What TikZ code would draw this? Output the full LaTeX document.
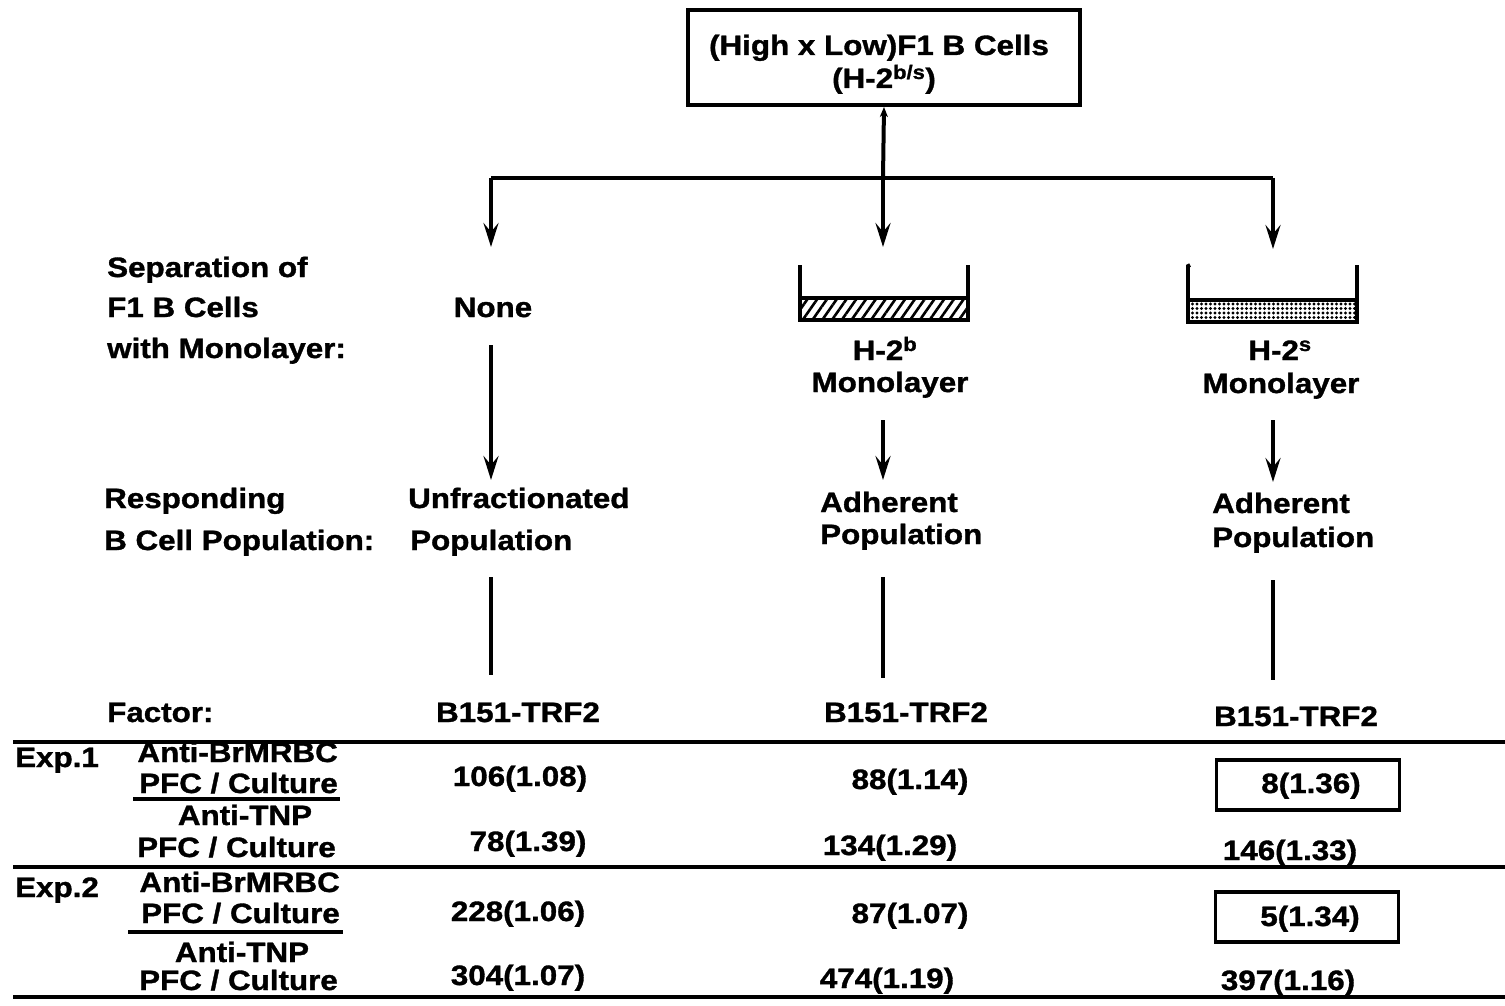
\documentclass[tikz,border=0pt]{standalone}
\usepackage{fontspec}
\setmainfont{Liberation Sans}[FakeStretch=1.12,BoldFeatures={FakeBold=1.2}]
\usetikzlibrary{arrows.meta,patterns.meta}
\newcommand{\bigtxt}{\fontsize{28}{32}\selectfont\bfseries}
\tikzset{
  txt/.style={font=\bigtxt, inner sep=0pt},
  lft/.style={txt, anchor=base west},
  ctr/.style={txt, anchor=base},
  rgt/.style={txt, anchor=base east},
  arr/.style={line width=4pt, -{Stealth[length=24pt,width=15pt,inset=9pt]}},
  ln/.style={line width=4pt},
  rule/.style={line width=4pt},
  dish/.style={line width=3.8pt},
  valbox/.style={draw, line width=3.2pt, minimum width=183pt, minimum height=50pt, inner sep=0pt}
}
\begin{document}
\begin{tikzpicture}[x=1pt,y=-1pt]
\useasboundingbox (0,0) rectangle (1505,1006);
\fill[white] (0,0) rectangle (1505,1006);

% top box
\node[draw, line width=4pt, minimum width=392pt, minimum height=95pt, inner sep=0pt] (top) at (884,57.5) {};
\node[ctr] (t1) at (879,55) {(High x Low)F1 B Cells};
\node[ctr] (t2) at (884,88) {(H-2\textsuperscript{b/s})};

% splitting
\coordinate (split) at (883,178);
\coordinate (sL) at (491,178);
\coordinate (sR) at (1273,178);
\coordinate (eL) at (491,247);
\coordinate (eM) at (883,247);
\coordinate (eR) at (1273,249);
\draw[line width=4pt, {Stealth[length=10pt,width=8pt,inset=3pt]}-] (top.south) -- (split);
\draw[ln] (sL) -- (sR);
\draw[arr] (sL) -- (eL);
\draw[arr] (split) -- (eM);
\draw[arr] (sR) -- (eR);

% left labels
\node[lft] (sep1) at (107,277) {Separation of};
\node[lft] (sep2) at (107,317) {F1 B Cells};
\node[lft] (sep3) at (107,358) {with Monolayer:};
\node[lft] (resp1) at (104,508) {Responding};
\node[lft] (resp2) at (104,550) {B Cell Population:};
\node[lft] (fac) at (107,722) {Factor:};

% column 1
\node[ctr] (none) at (493,317) {None};
\coordinate (a1s) at (491,345);
\coordinate (a1e) at (491,480);
\draw[arr] (a1s) -- (a1e);
\node[lft] (unf1) at (408,508) {Unfractionated};
\node[lft] (unf2) at (410,550) {Population};
\coordinate (l1s) at (491,577);
\coordinate (l1e) at (491,675);
\draw[ln] (l1s) -- (l1e);
\node[ctr] (f1) at (518,722) {B151-TRF2};

% column 2 dish
\fill[pattern={Lines[angle=55,distance=8pt,line width=2.6pt]}] (800,298) rectangle (968,320);
\draw[dish] (800,265) -- (800,320) -- (968,320) -- (968,265);
\draw[dish] (800,298) -- (968,298);
\node[ctr] (hb) at (885,360) {H-2\textsuperscript{b}};
\node[ctr] (mb) at (890,392) {Monolayer};
\coordinate (a2s) at (883,420);
\coordinate (a2e) at (883,480);
\draw[arr] (a2s) -- (a2e);
\node[lft] (ad1) at (820,512) {Adherent};
\node[lft] (ad2) at (820,544) {Population};
\coordinate (l2s) at (883,577);
\coordinate (l2e) at (883,678);
\draw[ln] (l2s) -- (l2e);
\node[ctr] (f2) at (906,722) {B151-TRF2};

% column 3 dish
\fill[pattern={Dots[distance=4.5pt,radius=1.6pt]}] (1188,300) rectangle (1357,322);
\draw[dish] (1190,265) -- (1188,266) -- (1188,322) -- (1357,322) -- (1357,265);
\draw[dish] (1188,300) -- (1357,300);
\node[ctr] (hs) at (1280,360) {H-2\textsuperscript{s}};
\node[ctr] (ms) at (1281,393) {Monolayer};
\coordinate (a3s) at (1273,420);
\coordinate (a3e) at (1273,482);
\draw[arr] (a3s) -- (a3e);
\node[lft] (ar1) at (1212,513) {Adherent};
\node[lft] (ar2) at (1212,547) {Population};
\coordinate (l3s) at (1273,580);
\coordinate (l3e) at (1273,680);
\draw[ln] (l3s) -- (l3e);
\node[ctr] (f3) at (1296,726) {B151-TRF2};

% table rules
\coordinate (r1a) at (13,742); \coordinate (r1b) at (1505,742);
\coordinate (r2a) at (13,867); \coordinate (r2b) at (1505,867);
\coordinate (r3a) at (13,997); \coordinate (r3b) at (1505,997);
\draw[rule] (r1a) -- (r1b);
\draw[rule] (r2a) -- (r2b);
\draw[rule] (r3a) -- (r3b);

% Exp 1
\node[lft] (e1) at (15,767) {Exp.1};
\node[rgt] (e1a) at (338,762) {Anti-BrMRBC};
\node[rgt] (e1b) at (338,793) {PFC / Culture};
\coordinate (u1a) at (133,799); \coordinate (u1b) at (340,799);
\draw[ln] (u1a) -- (u1b);
\node[ctr] (e1c) at (245,825) {Anti-TNP};
\node[rgt] (e1d) at (336,857) {PFC / Culture};

\node[ctr] (v11) at (520,786) {106(1.08)};
\node[ctr] (v12) at (910,789) {88(1.14)};
\node[valbox] (b13) at (1308,785) {};
\node[ctr] (v13) at (1311,793) {8(1.36)};
\node[ctr] (v21) at (528,851) {78(1.39)};
\node[ctr] (v22) at (890,855) {134(1.29)};
\node[ctr] (v23) at (1290,860) {146(1.33)};

% Exp 2
\node[lft] (e2) at (15,897) {Exp.2};
\node[rgt] (e2a) at (340,892) {Anti-BrMRBC};
\node[rgt] (e2b) at (340,923) {PFC / Culture};
\coordinate (u2a) at (128,932); \coordinate (u2b) at (343,932);
\draw[ln] (u2a) -- (u2b);
\node[ctr] (e2c) at (242,962) {Anti-TNP};
\node[rgt] (e2d) at (338,990) {PFC / Culture};

\node[ctr] (v31) at (518,921) {228(1.06)};
\node[ctr] (v32) at (910,923) {87(1.07)};
\node[valbox] (b33) at (1307,917) {};
\node[ctr] (v33) at (1310,926) {5(1.34)};
\node[ctr] (v41) at (518,985) {304(1.07)};
\node[ctr] (v42) at (887,988) {474(1.19)};
\node[ctr] (v43) at (1288,990) {397(1.16)};
\end{tikzpicture}
\end{document}
